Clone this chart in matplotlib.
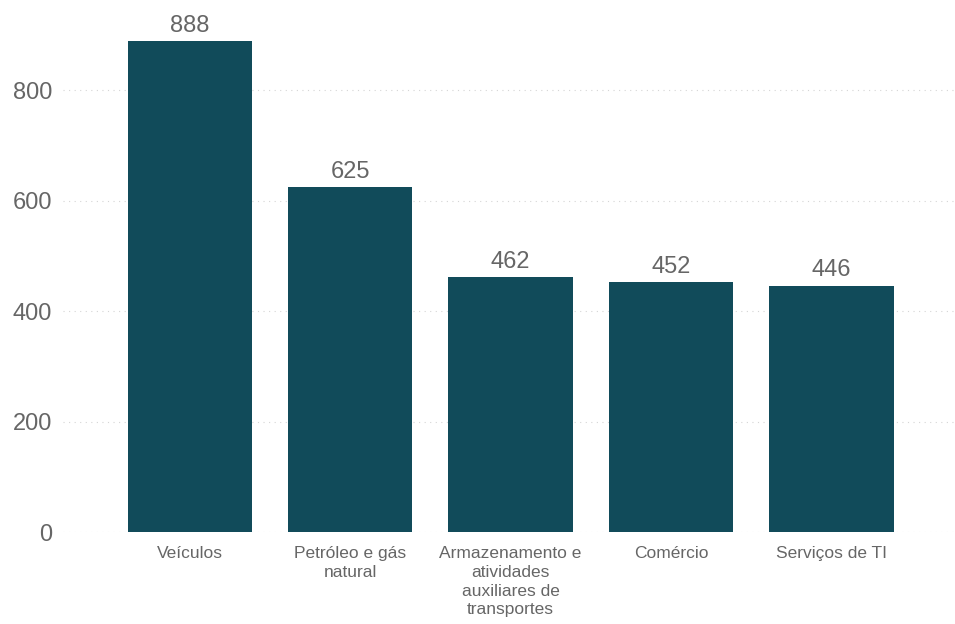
import matplotlib

matplotlib.use("Agg")

import matplotlib.pyplot as plt
import numpy as np

CATEGORIES = [
    "Veículos",
    "Petróleo e gás\nnatural",
    "Armazenamento e\natividades\nauxiliares de\ntransportes",
    "Comércio",
    "Serviços de TI",
]
VALUES = [888, 625, 462, 452, 446]
Y_TICKS = [0, 200, 400, 600, 800]

BAR_COLOR = "#114B5A"
TEXT_COLOR = "#666666"

plt.rcParams["font.family"] = ["Liberation Sans", "DejaVu Sans"]


def main() -> None:
    fig = plt.figure(figsize=(9.55, 6.24), dpi=100)
    ax = fig.add_axes([0.066, 0.1474, 0.934, 0.8526])

    x = np.arange(len(CATEGORIES))
    bars = ax.bar(x, VALUES, width=0.775, color=BAR_COLOR, zorder=2)

    for bar, value in zip(bars, VALUES):
        ax.annotate(
            f"{value}",
            (bar.get_x() + bar.get_width() / 2, bar.get_height()),
            xytext=(0, 3),
            textcoords="offset points",
            ha="center",
            va="bottom",
            fontsize=17,
            color=TEXT_COLOR,
        )

    ax.set_xlim(-0.79, 4.77)
    ax.set_ylim(0, 963)
    ax.set_yticks(Y_TICKS)
    ax.set_xticks(x)
    ax.set_xticklabels(CATEGORIES, fontsize=12.5, color=TEXT_COLOR, linespacing=1.32, va="top")
    ax.tick_params(axis="y", labelsize=17, labelcolor=TEXT_COLOR, length=0, pad=8)
    ax.tick_params(axis="x", length=0, pad=10)

    ax.grid(axis="y", linestyle=(0, (1, 4)), color="#d5d5d5", linewidth=0.8, zorder=0)
    for spine in ax.spines.values():
        spine.set_visible(False)

    fig.savefig("out.png", dpi=100)
    plt.close(fig)


if __name__ == "__main__":
    main()
